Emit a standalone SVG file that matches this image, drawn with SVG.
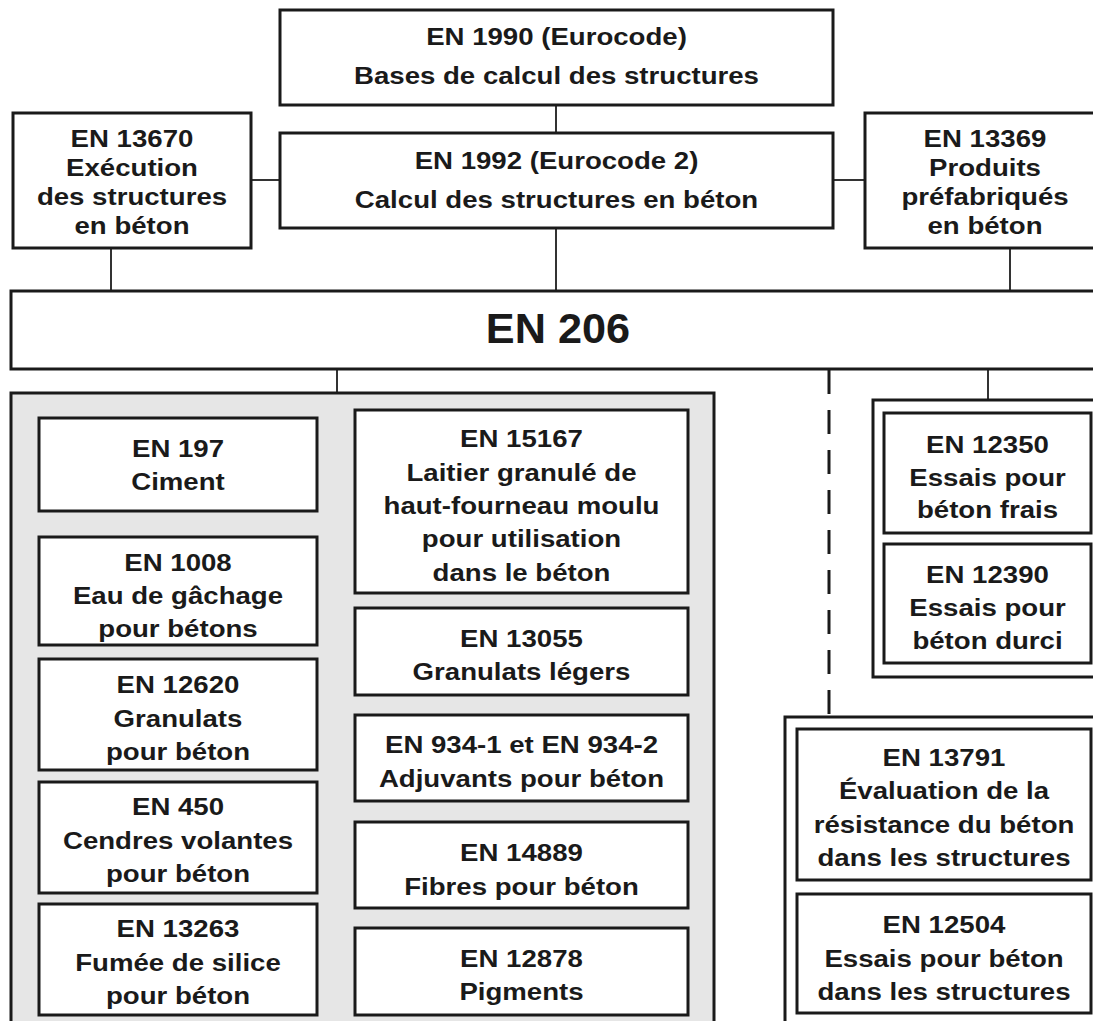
<svg xmlns="http://www.w3.org/2000/svg" width="1093" height="1021" viewBox="0 0 1093 1021">
<style>
.box{fill:#fff;stroke:#1a1a1a;stroke-width:3}
.grp{fill:#e6e6e6;stroke:#1a1a1a;stroke-width:3}
.wgrp{fill:#fff;stroke:#1a1a1a;stroke-width:3}
.t{font-family:"Liberation Sans",Arial,sans-serif;font-weight:bold;font-size:24px;fill:#1a1a1a;text-anchor:middle}
.big{font-size:42px}
.c{stroke:#333;stroke-width:2;fill:none}
.d{stroke:#1a1a1a;stroke-width:3;fill:none;stroke-dasharray:24 16}
</style>
<rect x="0" y="0" width="1093" height="1021" fill="#fff"/>

<g id="connectors">
<line class="c" x1="556" y1="105" x2="556" y2="133"/>
<line class="c" x1="251" y1="180" x2="280" y2="180"/>
<line class="c" x1="833" y1="180" x2="865" y2="180"/>
<line class="c" x1="111" y1="248" x2="111" y2="291"/>
<line class="c" x1="556" y1="228" x2="556" y2="291"/>
<line class="c" x1="1010" y1="248" x2="1010" y2="291"/>
<line class="c" x1="337" y1="369" x2="337" y2="393"/>
<line class="c" x1="988" y1="369" x2="988" y2="400"/>
<line class="d" x1="829" y1="370" x2="829" y2="717"/>
</g>

<g id="en1990">
<rect class="box" x="280" y="10" width="553" height="95"/>
<g transform="translate(556.5,0) scale(1.15,1)"><text class="t" x="0" y="45">EN 1990 (Eurocode)</text><text class="t" x="0" y="84">Bases de calcul des structures</text></g>
</g>

<g id="en13670">
<rect class="box" x="13" y="113" width="238" height="135"/>
<g transform="translate(132,0) scale(1.15,1)"><text class="t" x="0" y="147">EN 13670</text><text class="t" x="0" y="176">Exécution</text><text class="t" x="0" y="205">des structures</text><text class="t" x="0" y="234">en béton</text></g>
</g>

<g id="en1992">
<rect class="box" x="280" y="133" width="553" height="95"/>
<g transform="translate(556.5,0) scale(1.15,1)"><text class="t" x="0" y="169">EN 1992 (Eurocode 2)</text><text class="t" x="0" y="208">Calcul des structures en béton</text></g>
</g>

<g id="en13369">
<rect class="box" x="865" y="113" width="240" height="135"/>
<g transform="translate(985,0) scale(1.15,1)"><text class="t" x="0" y="147">EN 13369</text><text class="t" x="0" y="176">Produits</text><text class="t" x="0" y="205">préfabriqués</text><text class="t" x="0" y="234">en béton</text></g>
</g>

<g id="en206">
<rect class="box" x="11" y="291" width="1100" height="78"/>
<g transform="translate(558,0) scale(1.03,1)"><text class="t big" x="0" y="343">EN 206</text></g>
</g>

<g id="constituents">
<rect class="grp" x="11" y="393" width="703" height="700"/>
</g>

<g id="en197">
<rect class="box" x="39" y="418" width="278" height="93"/>
<g transform="translate(178,0) scale(1.15,1)"><text class="t" x="0" y="457">EN 197</text><text class="t" x="0" y="490">Ciment</text></g>
</g>

<g id="en1008">
<rect class="box" x="39" y="537" width="278" height="108"/>
<g transform="translate(178,0) scale(1.15,1)"><text class="t" x="0" y="571">EN 1008</text><text class="t" x="0" y="604">Eau de gâchage</text><text class="t" x="0" y="637">pour bétons</text></g>
</g>

<g id="en12620">
<rect class="box" x="39" y="659" width="278" height="111"/>
<g transform="translate(178,0) scale(1.15,1)"><text class="t" x="0" y="693">EN 12620</text><text class="t" x="0" y="727">Granulats</text><text class="t" x="0" y="760">pour béton</text></g>
</g>

<g id="en450">
<rect class="box" x="39" y="782" width="278" height="111"/>
<g transform="translate(178,0) scale(1.15,1)"><text class="t" x="0" y="815">EN 450</text><text class="t" x="0" y="849">Cendres volantes</text><text class="t" x="0" y="882">pour béton</text></g>
</g>

<g id="en13263">
<rect class="box" x="39" y="904" width="278" height="111"/>
<g transform="translate(178,0) scale(1.15,1)"><text class="t" x="0" y="937">EN 13263</text><text class="t" x="0" y="971">Fumée de silice</text><text class="t" x="0" y="1004">pour béton</text></g>
</g>

<g id="en15167">
<rect class="box" x="355" y="410" width="333" height="183"/>
<g transform="translate(521.5,0) scale(1.15,1)"><text class="t" x="0" y="447">EN 15167</text><text class="t" x="0" y="481">Laitier granulé de</text><text class="t" x="0" y="514">haut-fourneau moulu</text><text class="t" x="0" y="547">pour utilisation</text><text class="t" x="0" y="581">dans le béton</text></g>
</g>

<g id="en13055">
<rect class="box" x="355" y="608" width="333" height="87"/>
<g transform="translate(521.5,0) scale(1.15,1)"><text class="t" x="0" y="647">EN 13055</text><text class="t" x="0" y="680">Granulats légers</text></g>
</g>

<g id="en934">
<rect class="box" x="355" y="715" width="333" height="86"/>
<g transform="translate(521.5,0) scale(1.15,1)"><text class="t" x="0" y="753">EN 934-1 et EN 934-2</text><text class="t" x="0" y="787">Adjuvants pour béton</text></g>
</g>

<g id="en14889">
<rect class="box" x="355" y="822" width="333" height="86"/>
<g transform="translate(521.5,0) scale(1.15,1)"><text class="t" x="0" y="861">EN 14889</text><text class="t" x="0" y="895">Fibres pour béton</text></g>
</g>

<g id="en12878">
<rect class="box" x="355" y="928" width="333" height="87"/>
<g transform="translate(521.5,0) scale(1.15,1)"><text class="t" x="0" y="967">EN 12878</text><text class="t" x="0" y="1000">Pigments</text></g>
</g>

<g id="tests-fresh-hardened">
<rect class="wgrp" x="873" y="400" width="240" height="277"/>
</g>

<g id="en12350">
<rect class="box" x="884" y="413" width="207" height="120"/>
<g transform="translate(987.5,0) scale(1.15,1)"><text class="t" x="0" y="453">EN 12350</text><text class="t" x="0" y="486">Essais pour</text><text class="t" x="0" y="518">béton frais</text></g>
</g>

<g id="en12390">
<rect class="box" x="884" y="544" width="207" height="119"/>
<g transform="translate(987.5,0) scale(1.15,1)"><text class="t" x="0" y="583">EN 12390</text><text class="t" x="0" y="616">Essais pour</text><text class="t" x="0" y="649">béton durci</text></g>
</g>

<g id="tests-structures">
<rect class="wgrp" x="785" y="717" width="330" height="400"/>
</g>

<g id="en13791">
<rect class="box" x="797" y="729" width="294" height="151"/>
<g transform="translate(944,0) scale(1.15,1)"><text class="t" x="0" y="766">EN 13791</text><text class="t" x="0" y="799">Évaluation de la</text><text class="t" x="0" y="833">résistance du béton</text><text class="t" x="0" y="866">dans les structures</text></g>
</g>

<g id="en12504">
<rect class="box" x="797" y="894" width="294" height="119"/>
<g transform="translate(944,0) scale(1.15,1)"><text class="t" x="0" y="933">EN 12504</text><text class="t" x="0" y="967">Essais pour béton</text><text class="t" x="0" y="1000">dans les structures</text></g>
</g>
</svg>
